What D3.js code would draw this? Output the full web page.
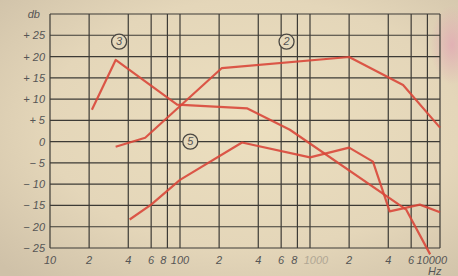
<!DOCTYPE html>
<html>
<head>
<meta charset="utf-8">
<script src="https://cdn.jsdelivr.net/npm/d3@7"></script>
<style>
  body { margin: 0; background: #ddd0b6; }
  svg { display: block; }
  .tick-label { font-family: "Liberation Sans", sans-serif; font-style: italic; font-size: 11px; fill: #555; }
</style>
</head>
<body>
<div id="chart"></div>
<script>
// Frequency grid (Hz) and the labels printed under it
const freqGrid = [10, 20, 40, 60, 80, 100, 200, 400, 600, 800, 1000, 2000, 4000, 6000, 8000, 10000];
const freqLabels = ["10", "2", "4", "6", "8", "100", "2", "4", "6", "8", "1000", "2", "4", "6", "", "10000"];

// Level grid (dB)
const dbGrid = [-25, -20, -15, -10, -5, 0, 5, 10, 15, 20, 25, 30];
const dbLabels = ["− 25", "− 20", "− 15", "− 10", "− 5", "0", "+ 5", "+ 10", "+ 15", "+ 20", "+ 25", "db"];

// Curve (3): peaks low in the bass
const curve3Freq = [21, 32, 95, 330, 700, 5500, 8400];
const curve3Db = [7.5, 19.2, 8.7, 7.8, 2.8, -16, -26.5];

// Curve (2): rising to a broad plateau
const curve2Freq = [32, 54, 210, 2000, 5200, 10000];
const curve2Db = [-1.2, 0.9, 17.3, 19.9, 13.3, 3.3];

// Curve (5): lowest curve
const curve5Freq = [41, 60, 100, 300, 1000, 2000, 3050, 4100, 7000, 10000];
const curve5Db = [-18.3, -14.8, -9, -0.2, -3.7, -1.4, -4.7, -16.4, -14.8, -16.6];

// Circled curve numbers
const markerNames = ["3", "2", "5"];
const markerFreq = [34, 660, 120];
const markerDb = [23.5, 23.5, 0];

const W = 458, H = 276;
const margin = {left: 50, right: 18, top: 14, bottom: 28};

const svg = d3.select("#chart").append("svg")
    .attr("width", W)
    .attr("height", H);

// Paper background
const defs = svg.append("defs");
const paper = defs.append("radialGradient").attr("id", "paper")
    .attr("cx", "55%").attr("cy", "45%").attr("r", "75%");
paper.append("stop").attr("offset", "0%").attr("stop-color", "#ecdfbf");
paper.append("stop").attr("offset", "60%").attr("stop-color", "#e4d6b9");
paper.append("stop").attr("offset", "100%").attr("stop-color", "#cfc1a8");
const stain = defs.append("radialGradient").attr("id", "stain");
stain.append("stop").attr("offset", "0%").attr("stop-color", "#e2a9b4").attr("stop-opacity", 0.8);
stain.append("stop").attr("offset", "100%").attr("stop-color", "#e2a9b4").attr("stop-opacity", 0);

svg.append("rect").attr("width", W).attr("height", H).attr("fill", "url(#paper)");
svg.append("ellipse").attr("cx", 452).attr("cy", 45).attr("rx", 22).attr("ry", 40).attr("fill", "url(#stain)");

const x = d3.scaleLog().domain([10, 10000]).range([margin.left, W - margin.right]);
const y = d3.scaleLinear().domain([-25, 30]).range([H - margin.bottom, margin.top]);

// Grid
const grid = svg.append("g").attr("stroke", "#3d3b36").attr("stroke-width", 1.2);
grid.selectAll("line.v").data(freqGrid).enter().append("line")
    .attr("x1", d => x(d)).attr("x2", d => x(d))
    .attr("y1", y(30)).attr("y2", y(-25));
grid.selectAll("line.h").data(dbGrid).enter().append("line")
    .attr("x1", x(10)).attr("x2", x(10000))
    .attr("y1", d => y(d)).attr("y2", d => y(d));

// Axis labels
const xShift = {80: -4, 800: -3, 1000: 6};
svg.append("g").selectAll("text").data(freqGrid).enter().append("text")
    .attr("class", "tick-label")
    .attr("x", d => x(d))
    .attr("y", y(-25) + 16)
    .attr("text-anchor", (d, i) => i === freqGrid.length - 1 ? "end" : "middle")
    .attr("dx", (d, i) => i === freqGrid.length - 1 ? 7 : (xShift[d] || 0))
    .attr("font-size", d => d === 1000 ? 9 : null)
    .attr("opacity", d => d === 1000 ? 0.35 : 1)
    .text((d, i) => freqLabels[i]);

svg.append("g").selectAll("text").data(dbGrid).enter().append("text")
    .attr("class", "tick-label")
    .attr("x", margin.left - 5)
    .attr("y", d => y(d) + 4)
    .attr("text-anchor", "end")
    .attr("dx", d => d === 30 ? -5 : 0)
    .text((d, i) => dbLabels[i]);

svg.append("text").attr("class", "tick-label")
    .attr("x", x(10000) - 12).attr("y", H - 1)
    .attr("font-size", 8)
    .text("Hz");

// Curves
const line = d3.line().x(d => x(d[0])).y(d => y(d[1]));
[[curve3Freq, curve3Db], [curve2Freq, curve2Db], [curve5Freq, curve5Db]].forEach(([fs, dbs]) => {
    svg.append("path")
        .datum(fs.map((f, i) => [f, dbs[i]]))
        .attr("d", line)
        .attr("fill", "none")
        .attr("stroke", "#d9473a")
        .attr("stroke-opacity", 0.9)
        .attr("stroke-width", 2.2)
        .attr("stroke-linejoin", "round");
});

// Circled numbers
const marks = svg.append("g").selectAll("g").data(markerNames).enter().append("g")
    .attr("transform", (d, i) => `translate(${x(markerFreq[i])},${y(markerDb[i])})`);
marks.append("circle").attr("r", 7.5)
    .attr("fill", "#e6d9bc").attr("stroke", "#4a4742").attr("stroke-width", 1.3);
marks.append("text").attr("class", "tick-label")
    .attr("text-anchor", "middle").attr("y", 3.5)
    .attr("font-size", 10).attr("fill", "#444")
    .text(d => d);
</script>
</body>
</html>
